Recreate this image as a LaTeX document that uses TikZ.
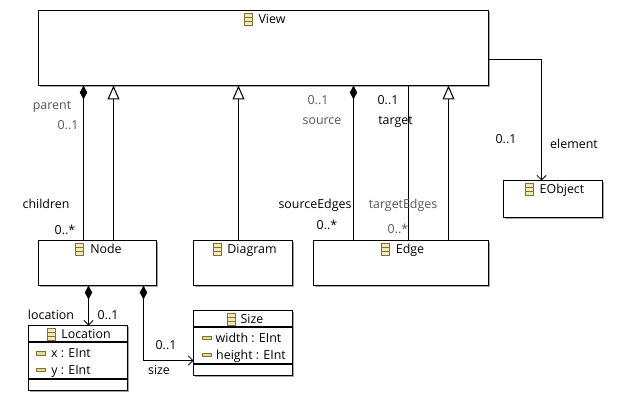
\documentclass[tikz,border=0pt]{standalone}
\usepackage{fontspec}
\setmainfont{Open Sans}
\usetikzlibrary{arrows.meta,shadows}
\definecolor{iconfill}{HTML}{F3E9B8}
\definecolor{iconline}{HTML}{7F7033}
\definecolor{attrfill}{HTML}{E2D9A0}
\definecolor{lblgray}{HTML}{555555}
\tikzset{
  classbox/.style={draw=black,line width=0.8pt,fill=white,anchor=north west,inner sep=0pt,outer sep=0pt,
    drop shadow={shadow xshift=1.2pt,shadow yshift=-1.2pt,fill=black!35,opacity=1}},
  lbl/.style={font=\fontsize{9.3}{11}\selectfont,text=black,inner sep=0pt,text height=7.5pt,text depth=1pt},
  glbl/.style={lbl,text=lblgray},
  conn/.style={line width=0.8pt,black},
  comp/.style={conn,{Diamond[length=10.5pt,width=5.5pt]}-},
  compnav/.style={conn,{Diamond[length=10.5pt,width=5.5pt]}-{Straight Barb[length=3.5pt,width=7pt,line width=0.6pt]}},
  nav/.style={conn,-{Straight Barb[length=3.5pt,width=7pt,line width=0.6pt]}},
  inherit/.style={conn,{Triangle[open,length=10.5pt,width=9pt,fill=white]}-},
  classicon/.pic={
    \draw[iconline,fill=iconfill,line width=0.6pt] (-4,-6) rectangle (4,6);
    \draw[iconline,line width=0.6pt] (-4,-2) -- (4,-2) (-4,2) -- (4,2);
  },
  attricon/.pic={
    \draw[iconline,fill=attrfill,line width=0.6pt] (-4.5,-1.8) rectangle (4.5,1.8);
  }
}
\begin{document}
\begin{tikzpicture}[x=0.75pt,y=-0.75pt]
  \useasboundingbox (0,0) rectangle (621,403);
  % classes
  \foreach \nm/\x/\y/\w/\h in {
    view/38.5/10.5/450/75,
    nodecls/38.5/240.5/118/45,
    diagram/193.5/240.5/99/45,
    edge/313.5/240.5/175/45,
    eobject/503.5/180.5/99/37,
    location/28.5/325.5/99/65,
    size/193.5/310.5/99/65} {
    \node[classbox,minimum width=\w*0.75pt,minimum height=\h*0.75pt] (\nm) at (\x,\y) {};
  }
  % class titles
  \foreach \nm/\ix/\tx/\y/\lbl in {
    viewname/248/272/19/View,
    nodename/79/106/249/Node,
    diagramname/217/252/249/Diagram,
    edgename/385/410/249/Edge,
    eobjectname/529/562/189/EObject,
    locationname/51/86/334/Location,
    sizename/231/252/319/Size} {
    \pic at (\ix,\y) {classicon};
    \node[lbl] (\nm) at (\tx,\y) {\lbl};
  }
  % compartments
  \draw[conn] (location.west |- 0,342) -- (location.east |- 0,342);
  \draw[conn] (location.west |- 0,379) -- (location.east |- 0,379);
  \draw[conn] (size.west |- 0,327) -- (size.east |- 0,327);
  \draw[conn] (size.west |- 0,364) -- (size.east |- 0,364);
  % attributes
  \foreach \nm/\ix/\tx/\y/\lbl in {
    attrx/41/71/353.5/{x : EInt},
    attry/41/71/370/{y : EInt},
    attrwidth/207/248.5/338/{width : EInt},
    attrheight/207/251/355/{height : EInt}} {
    \pic at (\ix,\y) {attricon};
    \node[lbl] (\nm) at (\tx,\y) {\lbl};
  }
  % associations
  \draw[comp] (83.5,0 |- view.south) -- (83.5,0 |- nodecls.north);
  \draw[comp] (353.5,0 |- view.south) -- (353.5,0 |- edge.north);
  \draw[conn] (408.5,0 |- view.south) -- (408.5,0 |- edge.north);
  \foreach \x/\nm in {113.5/nodecls,238.5/diagram,448.5/edge} {
    \draw[inherit] (\x,0 |- view.south) -- (\x,0 |- \nm.north);
  }
  \draw[nav] (view.east |- 0,59.5) -| (541.5,0 |- eobject.north);
  \draw[compnav] (88.5,0 |- nodecls.south) -- (88.5,0 |- location.north);
  \draw[compnav] (143.5,0 |- nodecls.south) |- (size.west |- 0,360.5);
  % role labels
  \node[glbl] (parentlbl) at (52,105) {parent};
  \node[glbl] (parentmul) at (68,125) {0..1};
  \node[lbl] (childrenlbl) at (46,204) {children};
  \node[lbl] (childrenmul) at (65,230) {0..*};
  \node[lbl] (locationlbl) at (51,315) {location};
  \node[lbl] (locationmul) at (108,315) {0..1};
  \node[lbl] (sizemul) at (166,345) {0..1};
  \node[lbl] (sizelbl) at (159,370) {size};
  \node[glbl] (sourcemul) at (318,100) {0..1};
  \node[glbl] (sourcelbl) at (322,120) {source};
  \node[lbl] (targetmul) at (388,100) {0..1};
  \node[lbl] (targetlbl) at (395.5,120) {target};
  \node[lbl] (srcedgeslbl) at (315,204) {sourceEdges};
  \node[lbl] (srcedgesmul) at (327,225) {0..*};
  \node[glbl] (tgtedgeslbl) at (403,204) {targetEdges};
  \node[glbl] (tgtedgesmul) at (398,229) {0..*};
  \node[lbl] (elementmul) at (506,139) {0..1};
  \node[lbl] (elementlbl) at (574,144) {element};
\end{tikzpicture}
\end{document}
